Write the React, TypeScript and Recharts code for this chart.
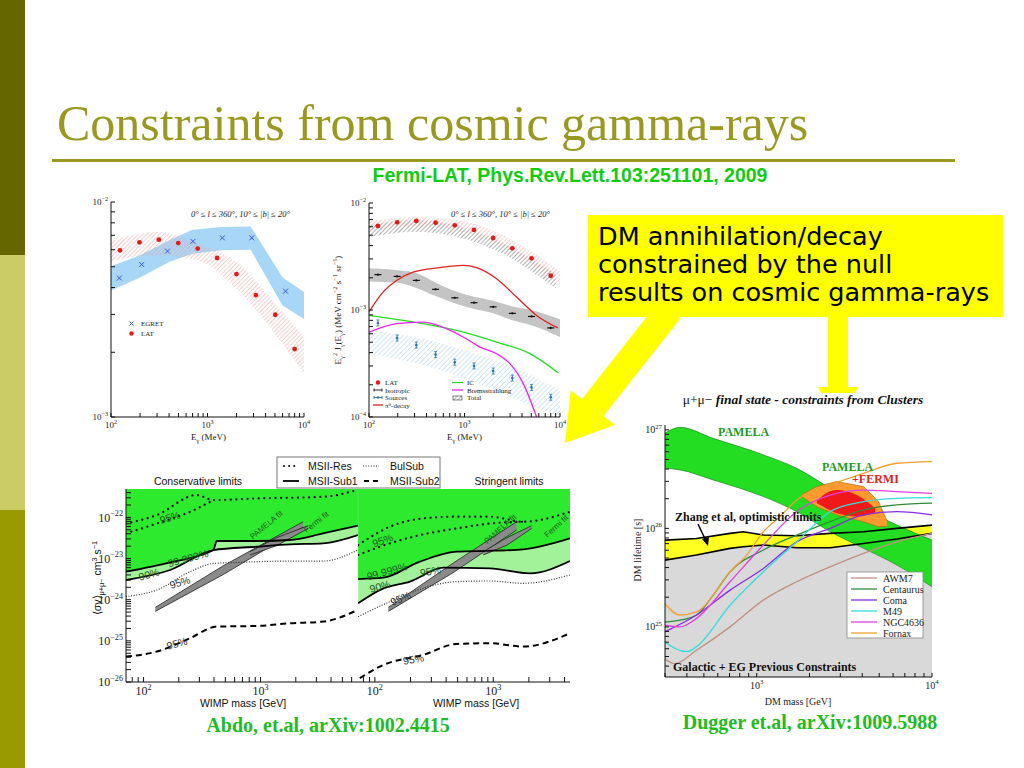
import React from 'react';
import { ComposedChart, XAxis, YAxis, Line, Area, Scatter } from 'recharts';

// ---- Fermi-LAT spectrum: EGRET vs LAT (left panel) ----
const egretE = [122, 208, 385, 706, 1426, 2877, 6442];
const egretFlux = [4.43e-3, 5.12e-3, 5.91e-3, 6.56e-3, 6.81e-3, 6.81e-3, 3.85e-3];
const egretBandE = [100, 200, 400, 700, 1400, 2800, 6000, 10000];
const egretBandLo = [3.88e-3, 4.45e-3, 5.26e-3, 5.75e-3, 5.96e-3, 5.99e-3, 3.3e-3, 2.86e-3];
const egretBandHi = [5.02e-3, 5.65e-3, 6.64e-3, 7.43e-3, 7.65e-3, 7.7e-3, 4.45e-3, 3.81e-3];
const latE = [124, 197, 313, 498, 791, 1257, 1995, 3170, 5035, 8000];
const latFluxA = [5.96e-3, 6.49e-3, 6.68e-3, 6.44e-3, 6.07e-3, 5.49e-3, 4.62e-3, 3.69e-3, 2.99e-3, 2.07e-3];
const latBandE = [100, 300, 800, 2000, 5000, 10000];
const latBandLo = [5.3e-3, 5.65e-3, 5.35e-3, 3.95e-3, 2.44e-3, 1.59e-3];
const latBandHi = [6.6e-3, 7.25e-3, 6.4e-3, 5.26e-3, 3.37e-3, 2.35e-3];

// ---- Fermi-LAT spectrum: model components (right panel) ----
const latFluxB = [6.1e-3, 6.6e-3, 6.8e-3, 6.55e-3, 6.18e-3, 5.6e-3, 4.71e-3, 3.77e-3, 3.04e-3, 2.09e-3];
const isoFlux = [2.14e-3, 2.06e-3, 1.89e-3, 1.56e-3, 1.3e-3, 1.17e-3, 1.07e-3, 9.3e-4, 8.7e-4, 6.8e-4];
const srcFlux = [7.57e-4, 5.47e-4, 4.71e-4, 3.83e-4, 3.25e-4, 3.0e-4, 2.69e-4, 2.31e-4, 1.89e-4, 1.53e-4];
const isoBandE = [100, 200, 316, 500, 800, 1260, 2000, 3170, 5000, 10000];
const isoBandLo = [1.85e-3, 1.8e-3, 1.6e-3, 1.35e-3, 1.15e-3, 1.02e-3, 9.3e-4, 8.0e-4, 7.2e-4, 5.6e-4];
const isoBandHi = [2.45e-3, 2.35e-3, 2.2e-3, 1.8e-3, 1.5e-3, 1.33e-3, 1.22e-3, 1.08e-3, 1.0e-3, 8.2e-4];
const srcBandE = [100, 300, 1000, 3000, 10000];
const srcBandLo = [3.9e-4, 3.2e-4, 2.3e-4, 1.55e-4, 1.0e-4];
const srcBandHi = [6.5e-4, 5.6e-4, 4.2e-4, 3.0e-4, 1.8e-4];
const totalBandE = [100, 300, 800, 1500, 3000, 5000, 9000];
const totalBandLo = [4.8e-3, 5.4e-3, 4.9e-3, 4.1e-3, 3.1e-3, 2.3e-3, 1.6e-3];
const totalBandHi = [6.2e-3, 6.9e-3, 6.2e-3, 5.2e-3, 3.9e-3, 3.0e-3, 2.2e-3];
const latBand2E = [100, 300, 800, 2000, 5000, 10000];
const latBand2Lo = [5.5e-3, 6.0e-3, 5.6e-3, 4.3e-3, 2.7e-3, 1.7e-3];
const latBand2Hi = [6.8e-3, 7.4e-3, 7.0e-3, 5.5e-3, 3.5e-3, 2.3e-3];
const pi0E = [100, 140, 194, 289, 551, 968, 1336, 2168, 3508, 5688, 9500];
const pi0Flux = [9.6e-4, 1.47e-3, 1.89e-3, 2.26e-3, 2.49e-3, 2.61e-3, 2.49e-3, 1.96e-3, 1.32e-3, 8.9e-4, 6.8e-4];
const icE = [100, 290, 824, 2168, 4842, 9617];
const icFlux = [8.9e-4, 7.73e-4, 6.45e-4, 5.02e-4, 3.91e-4, 2.58e-4];
const bremE = [100, 194, 368, 647, 968, 1449, 2168, 2992, 4122, 5688];
const bremFlux = [6.2e-4, 7.45e-4, 7.7e-4, 6.7e-4, 5.6e-4, 4.5e-4, 3.9e-4, 3.15e-4, 2.05e-4, 1.0e-4];

// ---- Abdo et al: conservative limits ----
const consUpperM = [70.7, 169, 395, 422, 925, 1778, 3420, 6790];
const consUpperV = [4.8e-24, 8.1e-24, 1.61e-23, 2.67e-23, 2.67e-23, 2.82e-23, 4.09e-23, 6.28e-23];
const consLowerM = [70.7, 169, 395, 925, 1778, 3420, 6790];
const consLowerV = [3.01e-24, 5.27e-24, 1.61e-23, 1.94e-23, 2.21e-23, 2.34e-23, 3.72e-23];
const consResHiM = [70.7, 130, 284, 395, 925, 3420, 6790];
const consResHiV = [7.1e-23, 1.14e-22, 3.5e-22, 2.64e-22, 2.89e-22, 3.16e-22, 4.7e-22];
const consResLoM = [70.7, 130, 250, 395];
const consResLoV = [4.09e-23, 7.1e-23, 1.37e-22, 2.64e-22];
const consBulM = [70.7, 130, 250, 395, 665, 1778, 3420, 6790];
const consBulV = [1.19e-24, 1.72e-24, 4.8e-24, 7.6e-24, 8.1e-24, 8.7e-24, 8.7e-24, 1.61e-23];
const consSub2M = [70.7, 130, 250, 422, 925, 1778, 3420, 6790];
const consSub2V = [4.15e-26, 5.5e-26, 1.16e-25, 2.22e-25, 2.3e-25, 2.67e-25, 2.94e-25, 5.64e-25];
const consPamM = [126, 481, 2311];
const consPamLo = [5.2e-25, 4.1e-24, 5.9e-23];
const consPamHi = [6.5e-25, 6.7e-24, 7.85e-23];
const consFermiM = [811, 1368, 2547];
const consFermiLo = [1.22e-23, 2.05e-23, 5.4e-23];
const consFermiHi = [1.47e-23, 3.2e-23, 6.28e-23];

// ---- Abdo et al: stringent limits ----
const strUpperM = [72.2, 118, 232, 489, 1000, 1793, 4446];
const strUpperV = [3.18e-24, 3.43e-24, 8.1e-24, 1.47e-23, 1.55e-23, 1.67e-23, 3.09e-23];
const strLowerM = [72.2, 118, 198, 378, 937, 2044, 4446];
const strLowerV = [8.2e-25, 1.89e-24, 2.75e-24, 6.0e-24, 5.78e-24, 4.37e-24, 8.7e-24];
const strBulM = [72.2, 134, 256, 489, 937, 1793, 4446];
const strBulV = [3.88e-25, 8.97e-25, 1.89e-24, 2.75e-24, 2.85e-24, 2.5e-24, 3.98e-24];
const strResHiM = [72.2, 134, 256, 489, 937, 1793, 4446];
const strResHiV = [2.13e-23, 5.93e-23, 9.46e-23, 1.04e-22, 1.04e-22, 7.85e-23, 1.37e-22];
const strResLoM = [72.2, 134, 256, 489, 937, 1793];
const strResLoV = [1.22e-23, 2.34e-23, 3.86e-23, 5.4e-23, 7.1e-23, 7.85e-23];
const strSub2M = [74.6, 118, 256, 489, 937, 1793, 4446];
const strSub2V = [1.24e-26, 2.6e-26, 4.56e-26, 8.4e-26, 8.75e-26, 7.26e-26, 1.53e-25];
const strPamM = [130, 450, 1574];
const strPamLo = [5.2e-25, 4.4e-24, 4.93e-23];
const strPamHi = [6.5e-25, 7.5e-24, 7.85e-23];
const strFermiM = [823, 1300, 2110];
const strFermiLo = [1.22e-23, 2.1e-23, 5.4e-23];
const strFermiHi = [1.47e-23, 3.2e-23, 6.28e-23];

// ---- Dugger et al: cluster constraints on DM lifetime ----
const prevM = [299, 454, 705, 839, 1092, 1693, 2625, 4070, 6310, 10000];
const prevTau = [4.76e25, 5.36e25, 6.27e25, 6.5e25, 6.78e25, 6.35e25, 6.35e25, 7.03e25, 7.79e25, 8.9e25];
const zhangTau = [7.6e25, 7.9e25, 8.9e25, 9.25e25, 8.55e25, 8.42e25, 8.9e25, 9.25e25, 1.0e26, 1.08e26];
const pamM = [299, 365, 565, 1092, 1693, 2625, 4070, 6310, 10000];
const pamLo = [4.07e26, 3.92e26, 3.1e26, 2.1e26, 1.48e26, 9.25e25, 6.27e25, 4.24e25, 2.55e25];
const pamHi = [9.25e26, 1.06e27, 8.2e26, 5.57e26, 4.07e26, 2.55e26, 1.6e26, 1.08e26, 7.6e25];
const pfM = [1807, 2203, 2864, 4070, 4955, 5530];
const pfLo = [2.1e26, 1.66e26, 1.37e26, 1.17e26, 1.04e26, 1.05e26];
const pfHi = [2.2e26, 2.66e26, 2.99e26, 2.66e26, 1.87e26, 1.2e26];
const pfCoreM = [2203, 2403, 2864, 3727, 4744];
const pfCoreLo = [1.8e26, 1.66e26, 1.42e26, 1.32e26, 1.45e26];
const pfCoreHi = [1.9e26, 2.18e26, 2.45e26, 2.18e26, 1.6e26];
const awm7M = [299, 341, 454, 705, 1092, 1693, 2625, 4070, 6310, 10000];
const awm7Tau = [4.76e24, 4.24e24, 5.8e24, 1.0e25, 1.87e25, 2.87e25, 4.07e25, 5.57e25, 7.3e25, 8.9e25];
const centM = [299, 365, 454, 565, 705, 1092, 1693, 2625, 4070, 6310, 10000];
const centTau = [1.12e25, 1.17e25, 1.32e25, 2.1e25, 3.62e25, 6.03e25, 8.55e25, 1.17e26, 1.54e26, 1.73e26, 1.8e26];
const comaM = [299, 454, 705, 1092, 1693, 2625, 4070, 6310, 10000];
const comaTau = [8.9e24, 1.32e25, 2.36e25, 3.92e25, 7.3e25, 1.0e26, 1.37e26, 1.48e26, 1.37e26];
const m49M = [299, 399, 454, 705, 1092, 1693, 2625, 4070, 6310, 10000];
const m49Tau = [7.0e24, 5.6e24, 6.3e24, 1.66e25, 3.62e25, 7.3e25, 1.48e26, 1.87e26, 2.02e26, 2.05e26];
const ngcM = [299, 365, 454, 705, 1092, 1693, 2625, 4070, 6310, 10000];
const ngcTau = [1.04e25, 1.0e25, 1.22e25, 2.87e25, 6.78e25, 1.48e26, 2.18e26, 2.45e26, 2.36e26, 2.27e26];
const fornaxM = [299, 365, 454, 705, 877, 1092, 1359, 1693, 2625, 4070, 6310, 10000];
const fornaxTau = [1.73e25, 1.32e25, 1.42e25, 3.62e25, 5.36e25, 9.25e25, 1.32e26, 1.94e26, 2.76e26, 3.62e26, 4.58e26, 4.76e26];
const clusterNames = ['AWM7', 'Centaurus', 'Coma', 'M49', 'NGC4636', 'Fornax'];
const clusterColors = ['#c09080', '#2e8b3a', '#8a2be2', '#33dddd', '#e040e0', '#f0a030'];

const SERIF = '"Liberation Serif", "Times New Roman", serif';
const SANS = '"Liberation Sans", Arial, sans-serif';

const pts = (xs: number[], ys: number[]) => xs.map((x, i) => ({ x, y: ys[i] }));
const band = (xs: number[], lo: number[], hi: number[]) => xs.map((x, i) => ({ x, y: [lo[i], hi[i]] }));

function logTicks(lo: number, hi: number) {
  const out: number[] = [];
  for (let e = Math.floor(Math.log10(lo)); e <= Math.ceil(Math.log10(hi)); e++) {
    for (let k = 1; k < 10; k++) {
      const v = k * Math.pow(10, e);
      if (v >= lo * 0.999 && v <= hi * 1.001) out.push(v);
    }
  }
  return out;
}
const isDecade = (v: number) => Math.abs(Math.log10(v) - Math.round(Math.log10(v))) < 1e-6;

function Pow({ x, y, v, anchor, font, size }: any) {
  const e = String(Math.round(Math.log10(v))).replace('-', '\u2212');
  return (
    <text x={x} y={y} textAnchor={anchor} fontFamily={font} fontSize={size} fill="#222">
      10<tspan dy={-size * 0.45} fontSize={size * 0.68}>{e}</tspan>
    </text>
  );
}

type Seg = { t: string; s?: 'sub' | 'sup' };
function Rich({ segs, size, ...rest }: any) {
  let cur = 0;
  return (
    <text fontSize={size} {...rest}>
      {segs.map((g: Seg, i: number) => {
        const target = g.s === 'sub' ? size * 0.3 : g.s === 'sup' ? -size * 0.42 : 0;
        const dy = target - cur;
        cur = target;
        return (
          <tspan key={i} dy={dy} fontSize={g.s ? size * 0.7 : size}>
            {g.t}
          </tspan>
        );
      })}
    </text>
  );
}

type Frame = {
  xd: [number, number];
  yd: [number, number];
  xh: number;
  yw: number;
  font: string;
  fs: number;
  tk?: number;
  right?: boolean;
  xLabels?: boolean;
  yLabels?: boolean;
};

function frame(c: Frame) {
  const tk = c.tk ?? 4;
  const xt = logTicks(c.xd[0], c.xd[1]);
  const yt = logTicks(c.yd[0], c.yd[1]);
  const common = {
    stroke: '#111',
    tickSize: -tk,
    interval: 0 as const,
    allowDataOverflow: true,
    scale: 'log' as const,
    type: 'number' as const,
  };
  const none = () => <g />;
  const axes = [
    <XAxis
      key="xb"
      dataKey="x"
      domain={c.xd}
      ticks={xt}
      height={c.xh}
      tickMargin={tk + 3}
      {...common}
      tick={(p: any) =>
        c.xLabels !== false && isDecade(p.payload.value) ? (
          <Pow x={p.x} y={p.y + c.fs * 0.85} v={p.payload.value} anchor="middle" font={c.font} size={c.fs} />
        ) : (
          <g />
        )
      }
    />,
    <XAxis key="xt" xAxisId="t" orientation="top" domain={c.xd} ticks={xt} height={0} tick={none} {...common} />,
    <YAxis
      key="yl"
      dataKey="y"
      domain={c.yd}
      ticks={yt}
      width={c.yw}
      tickMargin={tk + 3}
      {...common}
      tick={(p: any) =>
        c.yLabels !== false && isDecade(p.payload.value) ? (
          <Pow x={p.x} y={p.y + c.fs * 0.35} v={p.payload.value} anchor="end" font={c.font} size={c.fs} />
        ) : (
          <g />
        )
      }
    />,
  ];
  if (c.right !== false) {
    axes.push(
      <YAxis key="yr" yAxisId="r" orientation="right" domain={c.yd} ticks={yt} width={0} tick={none} {...common} />
    );
  }
  return axes;
}

const xMark = (p: any) => (
  <path
    d={`M${p.cx - 2.5},${p.cy - 2.5}L${p.cx + 2.5},${p.cy + 2.5}M${p.cx - 2.5},${p.cy + 2.5}L${p.cx + 2.5},${p.cy - 2.5}`}
    stroke="#3355dd"
    strokeWidth={1}
  />
);
const redDot = (p: any) => <circle cx={p.cx} cy={p.cy} r={2.4} fill="#e41a1a" />;
const isoMark = (p: any) => (
  <g>
    <path d={`M${p.cx - 3.5},${p.cy}H${p.cx + 3.5}`} stroke="#111" strokeWidth={1.2} />
    <circle cx={p.cx} cy={p.cy} r={1.1} fill="#111" />
  </g>
);
const srcMark = (p: any) => (
  <g>
    <path d={`M${p.cx},${p.cy - 3}V${p.cy + 3}M${p.cx - 1.5},${p.cy - 3}H${p.cx + 1.5}M${p.cx - 1.5},${p.cy + 3}H${p.cx + 1.5}`} stroke="#2a70b0" strokeWidth={0.8} />
    <circle cx={p.cx} cy={p.cy} r={1.3} fill="#2a70b0" />
  </g>
);

const NA = { isAnimationActive: false, dot: false, activeDot: false } as const;

function Hatches() {
  return (
    <defs>
      <pattern id="hPink" patternUnits="userSpaceOnUse" width="3" height="3" patternTransform="rotate(45)">
        <line x1="0" y1="0" x2="0" y2="3" stroke="#f4a0a0" strokeWidth="1" />
      </pattern>
      <pattern id="hBlack" patternUnits="userSpaceOnUse" width="3" height="3" patternTransform="rotate(45)">
        <line x1="0" y1="0" x2="0" y2="3" stroke="#555" strokeWidth="0.9" />
      </pattern>
      <pattern id="hBlue" patternUnits="userSpaceOnUse" width="3.5" height="3.5" patternTransform="rotate(45)">
        <line x1="0" y1="0" x2="0" y2="3.5" stroke="#9fd0ee" strokeWidth="1" />
      </pattern>
    </defs>
  );
}

function EgretPanel() {
  return (
    <div style={{ position: 'absolute', left: 80, top: 190 }}>
      <ComposedChart width={235} height={255} margin={{ top: 12, right: 11, left: 0, bottom: 0 }}>
        <Hatches />
        {frame({ xd: [100, 10000], yd: [1e-3, 1e-2], xh: 28, yw: 31, font: SERIF, fs: 9 })}
        <Area data={band(egretBandE, egretBandLo, egretBandHi)} dataKey="y" type="linear" fill="#a8d6f6" fillOpacity={1} stroke="none" {...NA} />
        <Area data={band(latBandE, latBandLo, latBandHi)} dataKey="y" type="monotone" fill="url(#hPink)" fillOpacity={1} stroke="none" {...NA} />
        <Scatter data={pts(egretE, egretFlux)} dataKey="y" shape={xMark} isAnimationActive={false} />
        <Scatter data={pts(latE, latFluxA)} dataKey="y" shape={redDot} isAnimationActive={false} />
      </ComposedChart>
    </div>
  );
}

function ComponentsPanel() {
  return (
    <div style={{ position: 'absolute', left: 330, top: 190 }}>
      <ComposedChart width={240} height={255} margin={{ top: 13, right: 10, left: 0, bottom: 0 }}>
        <Hatches />
        {frame({ xd: [100, 10000], yd: [1e-4, 1e-2], xh: 28, yw: 39, font: SERIF, fs: 9 })}
        <Area data={band(totalBandE, totalBandLo, totalBandHi)} dataKey="y" type="monotone" fill="url(#hBlack)" fillOpacity={1} stroke="none" {...NA} />
        <Area data={band(latBand2E, latBand2Lo, latBand2Hi)} dataKey="y" type="monotone" fill="url(#hPink)" fillOpacity={1} stroke="none" {...NA} />
        <Area data={band(isoBandE, isoBandLo, isoBandHi)} dataKey="y" type="monotone" fill="#c4c4c4" fillOpacity={1} stroke="none" {...NA} />
        <Area data={band(srcBandE, srcBandLo, srcBandHi)} dataKey="y" type="monotone" fill="url(#hBlue)" fillOpacity={1} stroke="none" {...NA} />
        <Line data={pts(pi0E, pi0Flux)} dataKey="y" type="monotone" stroke="#e02020" strokeWidth={1.3} {...NA} />
        <Line data={pts(icE, icFlux)} dataKey="y" type="monotone" stroke="#22dd22" strokeWidth={1.3} {...NA} />
        <Line data={pts(bremE, bremFlux)} dataKey="y" type="monotone" stroke="#ee22ee" strokeWidth={1.3} {...NA} />
        <Scatter data={pts(latE, latFluxB)} dataKey="y" shape={redDot} isAnimationActive={false} />
        <Scatter data={pts(latE, isoFlux)} dataKey="y" shape={isoMark} isAnimationActive={false} />
        <Scatter data={pts(latE, srcFlux)} dataKey="y" shape={srcMark} isAnimationActive={false} />
      </ComposedChart>
    </div>
  );
}

const GREEN = '#2eea2e';
const LIGHT = '#a2f29a';
const RES = { stroke: '#111', strokeWidth: 2.2, strokeDasharray: '0.1 5.5', strokeLinecap: 'round' as const };
const BUL = { stroke: '#333', strokeWidth: 1.2, strokeDasharray: '1 1.6' };
const SUB1 = { stroke: '#000', strokeWidth: 1.8 };
const SUB2 = { stroke: '#000', strokeWidth: 2, strokeDasharray: '6 4' };

function LimitPanel(props: {
  left: number;
  width: number;
  xd: [number, number];
  yw: number;
  right: boolean;
  yLabels: boolean;
  upper: [number[], number[]];
  lower: [number[], number[]];
  resHi: [number[], number[]];
  resLo: [number[], number[]];
  bul: [number[], number[]];
  sub2: [number[], number[]];
  pam: [number[], number[], number[]];
  fermi: [number[], number[], number[]];
}) {
  const p = props;
  return (
    <div style={{ position: 'absolute', left: p.left, top: 470 }}>
      <ComposedChart width={p.width} height={235} margin={{ top: 19, right: 2, left: 0, bottom: 0 }}>
        {frame({ xd: p.xd, yd: [1e-26, 4.9e-22], xh: 23, yw: p.yw, font: SERIF, fs: 12, right: p.right, yLabels: p.yLabels, tk: 5 })}
        <Area data={pts(p.lower[0], p.lower[1])} dataKey="y" type="monotone" baseValue="dataMax" fill={LIGHT} fillOpacity={1} stroke="none" {...NA} />
        <Area data={pts(p.upper[0], p.upper[1])} dataKey="y" type="monotone" baseValue="dataMax" fill={GREEN} fillOpacity={1} stroke="none" {...NA} />
        <Line data={pts(p.upper[0], p.upper[1])} dataKey="y" type="monotone" {...SUB1} {...NA} />
        <Line data={pts(p.lower[0], p.lower[1])} dataKey="y" type="monotone" {...SUB1} {...NA} />
        <Line data={pts(p.resHi[0], p.resHi[1])} dataKey="y" type="monotone" {...RES} {...NA} />
        <Line data={pts(p.resLo[0], p.resLo[1])} dataKey="y" type="monotone" {...RES} {...NA} />
        <Line data={pts(p.bul[0], p.bul[1])} dataKey="y" type="monotone" {...BUL} {...NA} />
        <Line data={pts(p.sub2[0], p.sub2[1])} dataKey="y" type="monotone" {...SUB2} {...NA} />
        <Area data={band(p.pam[0], p.pam[1], p.pam[2])} dataKey="y" type="linear" fill="#8a8a8a" fillOpacity={1} stroke="#222" strokeWidth={0.8} {...NA} />
        <Area data={band(p.fermi[0], p.fermi[1], p.fermi[2])} dataKey="y" type="linear" fill="#8a8a8a" fillOpacity={1} stroke="#222" strokeWidth={0.8} {...NA} />
      </ComposedChart>
    </div>
  );
}

function ClusterPanel() {
  const tauMin = 3.1e24;
  const series = [
    [awm7M, awm7Tau],
    [centM, centTau],
    [comaM, comaTau],
    [m49M, m49Tau],
    [ngcM, ngcTau],
    [fornaxM, fornaxTau],
  ];
  return (
    <div style={{ position: 'absolute', left: 630, top: 410 }}>
      <ComposedChart width={310} height={300} margin={{ top: 15, right: 8, left: 0, bottom: 0 }}>
        {frame({ xd: [300, 10000], yd: [tauMin, 1.12e27], xh: 33, yw: 35, font: SERIF, fs: 10, tk: 4 })}
        <Area data={pts(prevM, prevTau)} dataKey="y" type="linear" fill="#d9d9d9" fillOpacity={1} stroke="none" {...NA} />
        <Area data={band(prevM, prevTau, zhangTau)} dataKey="y" type="linear" fill="#ffff22" fillOpacity={1} stroke="none" {...NA} />
        <Area data={band(pamM, pamLo, pamHi)} dataKey="y" type="monotone" fill="#22dd22" fillOpacity={1} stroke="#117711" strokeWidth={0.6} {...NA} />
        <Area data={band(pfM, pfLo, pfHi)} dataKey="y" type="linear" fill="#ff9a2e" fillOpacity={1} stroke="#b06010" strokeWidth={0.6} {...NA} />
        <Area data={band(pfCoreM, pfCoreLo, pfCoreHi)} dataKey="y" type="monotone" fill="#f01818" fillOpacity={1} stroke="none" {...NA} />
        <Line data={pts(prevM, prevTau)} dataKey="y" type="linear" stroke="#000" strokeWidth={1.6} {...NA} />
        <Line data={pts(prevM, zhangTau)} dataKey="y" type="linear" stroke="#000" strokeWidth={1.6} {...NA} />
        {series.map(([m, t], i) => (
          <Line key={clusterNames[i]} data={pts(m, t)} dataKey="y" type="monotone" stroke={clusterColors[i]} strokeWidth={1.3} {...NA} />
        ))}
      </ComposedChart>
    </div>
  );
}

const gammaY: Seg[] = [
  { t: 'E' }, { t: '\u03b3', s: 'sub' }, { t: '2', s: 'sup' }, { t: ' J' }, { t: '\u03b3', s: 'sub' }, { t: '(E' }, { t: '\u03b3', s: 'sub' },
  { t: ') (MeV cm' }, { t: '\u22122', s: 'sup' }, { t: ' s' }, { t: '\u22121', s: 'sup' }, { t: ' sr' }, { t: '\u22121', s: 'sup' }, { t: ')' },
];
const gammaX: Seg[] = [{ t: 'E' }, { t: '\u03b3', s: 'sub' }, { t: ' (MeV)' }];
const sigmaY: Seg[] = [{ t: '\u27e8\u03c3v\u27e9' }, { t: '\u03bc+\u03bc\u2212', s: 'sub' }, { t: '  cm' }, { t: '3', s: 'sup' }, { t: ' s' }, { t: '\u22121', s: 'sup' }];

function RegionNote({ x, y }: { x: number; y: number }) {
  return (
    <text x={x} y={y} fontFamily={SERIF} fontSize={8.5} fontStyle="italic" fill="#222">
      0° ≤ l ≤ 360°, 10° ≤ |b| ≤ 20°
    </text>
  );
}

function Pct({ x, y, r, t, c = '#1d5a1d', fs = 10.5 }: any) {
  return (
    <text x={x} y={y} transform={`rotate(${r} ${x} ${y})`} fontFamily={SANS} fontSize={fs} fill={c} textAnchor="middle">
      {t}
    </text>
  );
}

function Overlay() {
  const leg = { fontFamily: SERIF, fontSize: 7, fill: '#222' };
  const lgRows = [578, 589, 600, 611, 622, 633];
  return (
    <svg width={1024} height={768} style={{ position: 'absolute', left: 0, top: 0, pointerEvents: 'none' }}>
      {/* slide frame */}
      <rect x={0} y={0} width={25} height={255} fill="#666600" />
      <rect x={0} y={255} width={25} height={255} fill="#cccc66" />
      <rect x={0} y={510} width={25} height={258} fill="#999900" />
      <text x={57} y={140} fontFamily={SERIF} fontSize={50} fill="#999922">
        Constraints from cosmic gamma-rays
      </text>
      <rect x={52} y={159} width={903} height={3} fill="#999922" />
      <text x={570} y={182} textAnchor="middle" fontFamily={SANS} fontWeight="bold" fontSize={19.5} fill="#11cc11">
        Fermi-LAT, Phys.Rev.Lett.103:251101, 2009
      </text>

      {/* EGRET panel notes */}
      <RegionNote x={191} y={217} />
      <path d="M129.5,321.5l4,4M129.5,325.5l4,-4" stroke="#3355dd" strokeWidth={1} />
      <circle cx={131.5} cy={333.5} r={2.2} fill="#e41a1a" />
      <text x={141} y={326} {...leg}>EGRET</text>
      <text x={141} y={336} {...leg}>LAT</text>
      <Rich segs={gammaX} size={9} x={191} y={440} fontFamily={SERIF} fill="#222" />

      {/* components panel notes */}
      <RegionNote x={451} y={217} />
      <Rich segs={gammaY} size={9} x={341} y={310} fontFamily={SERIF} fill="#222" textAnchor="middle" transform="rotate(-90 341 310)" />
      <Rich segs={gammaX} size={9} x={447} y={440} fontFamily={SERIF} fill="#222" />
      <circle cx={378} cy={382.5} r={2.2} fill="#e41a1a" />
      <path d="M374,390H382M374,388.5V391.5M382,388.5V391.5" stroke="#111" strokeWidth={0.9} />
      <path d="M374,397.5H382M374,396V399M382,396V399" stroke="#2a70b0" strokeWidth={0.9} />
      <circle cx={378} cy={397.5} r={1.2} fill="#2a70b0" />
      <path d="M373,405H383" stroke="#e02020" strokeWidth={1.3} />
      <text x={385} y={385} {...leg}>LAT</text>
      <text x={385} y={392.5} {...leg}>Isotropic</text>
      <text x={385} y={400} {...leg}>Sources</text>
      <text x={385} y={407.5} {...leg}>{'\u03c0'}<tspan dy={-2} fontSize={5}>0</tspan><tspan dy={2}>-decay</tspan></text>
      <path d="M452,382.5H463" stroke="#22dd22" strokeWidth={1.3} />
      <path d="M452,390H463" stroke="#ee22ee" strokeWidth={1.3} />
      <rect x={453} y={396} width={9} height={4} fill="url(#hBlack)" stroke="#333" strokeWidth={0.6} />
      <text x={467} y={385} {...leg}>IC</text>
      <text x={467} y={392.5} {...leg}>Bremsstrahlung</text>
      <text x={467} y={400} {...leg}>Total</text>

      {/* callout and arrows */}
      <rect x={588} y={215} width={415} height={102} fill="#ffff00" />
      <g fontFamily='"DejaVu Sans", Verdana, sans-serif' fontSize={25.5} fill="#000">
        <text x={598} y={245}>DM annihilation/decay</text>
        <text x={598} y={273}>constrained by the null</text>
        <text x={598} y={301}>results on cosmic gamma-rays</text>
      </g>
      <polygon points="658.8,301.5 680.4,318.5 603.6,416.1 614.8,424.9 565,443 570.8,390.3 582,399" fill="#ffff00" />
      <polygon points="828,310 848,310 848,387 858,387 855,393 821,393 818,387 828,387" fill="#ffff00" />

      {/* Abdo limits */}
      <rect x={277} y={457} width={163} height={31} fill="#fff" stroke="#777" strokeWidth={1} />
      <path d="M284,466H298" {...RES} strokeWidth={2} strokeDasharray="0.1 5" />
      <path d="M363,466H379" {...BUL} />
      <path d="M283,481H299" {...SUB1} />
      <path d="M364,481H381" {...SUB2} strokeDasharray="5 4" />
      <g fontFamily={SANS} fontSize={10.5} fill="#111">
        <text x={308} y={469.5}>MSII-Res</text>
        <text x={390} y={469.5}>BulSub</text>
        <text x={308} y={484.5}>MSII-Sub1</text>
        <text x={390} y={484.5}>MSII-Sub2</text>
        <text x={198} y={484.5} textAnchor="middle">Conservative limits</text>
        <text x={509} y={484.5} textAnchor="middle">Stringent limits</text>
        <text x={243} y={707} textAnchor="middle">WIMP mass [GeV]</text>
        <text x={476} y={707} textAnchor="middle">WIMP mass [GeV]</text>
      </g>
      <Rich segs={sigmaY} size={10.5} x={101} y={578} fontFamily={SANS} fill="#111" textAnchor="middle" transform="rotate(-90 101 578)" />
      <Pct x={171} y={521} r={-16} t="95%" />
      <Pct x={189} y={562} r={-15} t="99.999%" />
      <Pct x={150} y={578} r={-15} t="90%" />
      <Pct x={181} y={586} r={-17} t="95%" c="#333" />
      <Pct x={178} y={647} r={-15} t="95%" c="#333" />
      <Pct x={268} y={527} r={-40} t="PAMELA fit" fs={8} />
      <Pct x={318} y={524} r={-38} t="Fermi fit" fs={8} />
      <Pct x={384} y={544} r={-20} t="95%" />
      <Pct x={388} y={575} r={-15} t="99.999%" />
      <Pct x={381} y={590} r={-15} t="90%" />
      <Pct x={431} y={575} r={-10} t="95%" />
      <Pct x={402} y={602} r={-22} t="95%" c="#333" />
      <Pct x={414} y={663} r={-10} t="95%" c="#333" />
      <Pct x={502} y={531} r={-42} t="PAMELA fit" fs={8} />
      <Pct x={558} y={528} r={-42} t="Fermi fit" fs={8} />
      <text x={328} y={732} textAnchor="middle" fontFamily={SERIF} fontWeight="bold" fontSize={20} fill="#22bb22">
        Abdo, et.al, arXiv:1002.4415
      </text>

      {/* Dugger clusters */}
      <text x={803} y={404} textAnchor="middle" fontFamily={SERIF} fontSize={13.5} fill="#111">
        {'\u03bc+\u03bc\u2212 '}
        <tspan fontWeight="bold" fontStyle="italic">final state - constraints from Clusters</tspan>
      </text>
      <g fontFamily={SERIF} fontWeight="bold" fontSize={12}>
        <text x={718} y={436} fill="#229922">PAMELA</text>
        <text x={822} y={471} fill="#229922">PAMELA</text>
        <text x={852} y={483} fill="#dd2222">+FERMI</text>
        <text x={675} y={521} fill="#111">Zhang et al, optimistic limits</text>
        <text x={673} y={671} fill="#111">Galactic + EG Previous Constraints</text>
      </g>
      <path d="M698,524L706,541" stroke="#000" strokeWidth={1.5} />
      <polygon points="708,546 702,539 709,537" fill="#000" />
      <rect x={847} y={572} width={76} height={66} fill="#fff" stroke="#888" strokeWidth={0.8} />
      {clusterNames.map((n, i) => (
        <g key={n}>
          <path d={`M851,${lgRows[i]}H877`} stroke={clusterColors[i]} strokeWidth={1.3} />
          <text x={883} y={lgRows[i] + 3.5} fontFamily={SERIF} fontSize={10} fill="#222">{n}</text>
        </g>
      ))}
      <text x={641} y={550} textAnchor="middle" transform="rotate(-90 641 550)" fontFamily={SERIF} fontSize={10} fill="#222">
        DM lifetime [s]
      </text>
      <text x={798} y={705} textAnchor="middle" fontFamily={SERIF} fontSize={10} fill="#222">DM mass [GeV]</text>
      <text x={810} y={729} textAnchor="middle" fontFamily={SERIF} fontWeight="bold" fontSize={20} fill="#22bb22">
        Dugger et.al, arXiv:1009.5988
      </text>
    </svg>
  );
}

export default function App() {
  return (
    <div style={{ position: 'absolute', left: 0, top: 0, width: 1024, height: 768, background: '#fff', overflow: 'hidden' }}>
      <EgretPanel />
      <ComponentsPanel />
      <LimitPanel
        left={90}
        width={270}
        xd={[70.8, 6800]}
        yw={36}
        right={true}
        yLabels={true}
        upper={[consUpperM, consUpperV]}
        lower={[consLowerM, consLowerV]}
        resHi={[consResHiM, consResHiV]}
        resLo={[consResLoM, consResLoV]}
        bul={[consBulM, consBulV]}
        sub2={[consSub2M, consSub2V]}
        pam={[consPamM, consPamLo, consPamHi]}
        fermi={[consFermiM, consFermiLo, consFermiHi]}
      />
      <LimitPanel
        left={358}
        width={214}
        xd={[72, 4450]}
        yw={0}
        right={false}
        yLabels={false}
        upper={[strUpperM, strUpperV]}
        lower={[strLowerM, strLowerV]}
        resHi={[strResHiM, strResHiV]}
        resLo={[strResLoM, strResLoV]}
        bul={[strBulM, strBulV]}
        sub2={[strSub2M, strSub2V]}
        pam={[strPamM, strPamLo, strPamHi]}
        fermi={[strFermiM, strFermiLo, strFermiHi]}
      />
      <ClusterPanel />
      <Overlay />
    </div>
  );
}
